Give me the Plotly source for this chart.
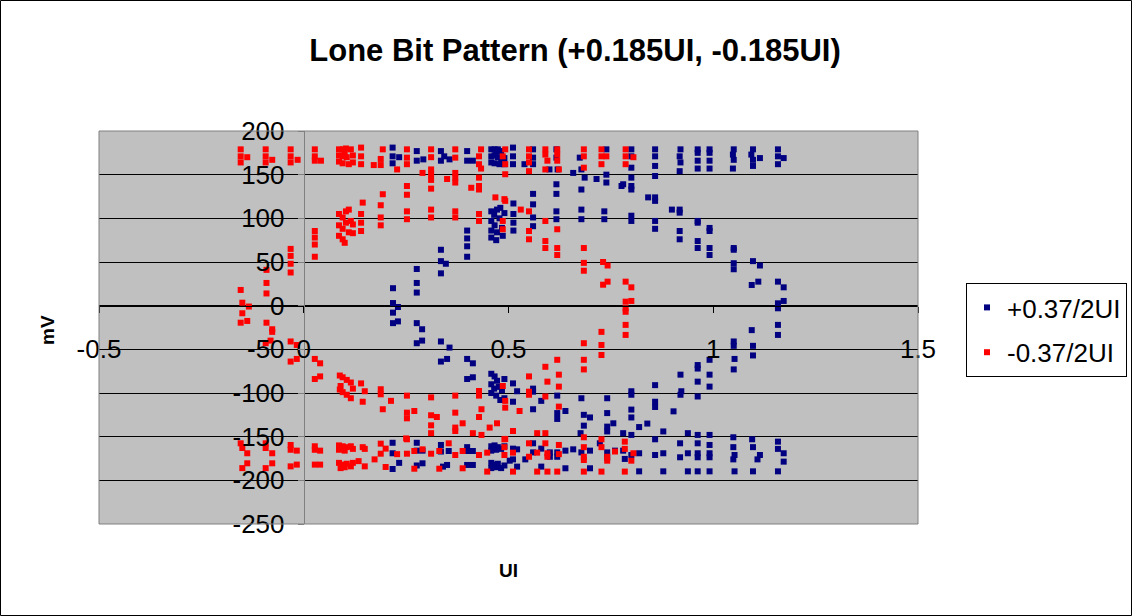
import plotly.graph_objects as go

# ---------------- data (UI, mV) ----------------
blue_points = [
    # left crossing
    (0.218, 20), (0.218, 3), (0.230, -1.5), (0.218, -8), (0.218, -20), (0.230, -18),
    # top rail
    (0.217, 181), (0.217, 171), (0.233, 170), (0.217, 163),
    (0.276, 177), (0.276, 166), (0.292, 167.5),
    (0.335, 177), (0.335, 166), (0.343, 171), (0.356, 167.5),
    (0.399, 177), (0.399, 166), (0.413, 166),
    (0.458, 179), (0.466, 179), (0.474, 179), (0.482, 177), (0.458, 171), (0.466, 172),
    (0.474, 170), (0.490, 169), (0.458, 164), (0.466, 163), (0.478, 162), (0.490, 162),
    (0.470, 175), (0.482, 166),
    (0.511, 181), (0.511, 171), (0.511, 162),
    (0.539, 162), (0.560, 179), (0.560, 169.5), (0.560, 162),
    (0.600, 156), (0.617, 179), (0.617, 169.5), (0.620, 156),
    (0.658, 152), (0.674, 169.5), (0.678, 156), (0.686, 146.6), (0.678, 133),
    (0.739, 179), (0.715, 145), (0.739, 150), (0.739, 141),
    (0.776, 137), (0.780, 139),
    (0.800, 179), (0.800, 171), (0.800, 158), (0.800, 146.6), (0.800, 137), (0.800, 133),
    (0.858, 179), (0.858, 171), (0.858, 160), (0.858, 148.5),
    (0.920, 179), (0.918, 171), (0.920, 164), (0.918, 154),
    (0.962, 179), (0.962, 175), (0.962, 166), (0.962, 157),
    (0.991, 179), (0.991, 175), (0.991, 166), (0.991, 157),
    (1.050, 179), (1.048, 173), (1.050, 167), (1.048, 157),
    (1.097, 179), (1.093, 173), (1.097, 167), (1.114, 169), (1.097, 160),
    (1.158, 179), (1.158, 171), (1.158, 162), (1.172, 169),
    # upper branch
    (0.276, 42), (0.276, 26), (0.276, 15),
    (0.335, 64), (0.335, 51), (0.347, 48), (0.335, 37),
    (0.399, 86), (0.399, 77), (0.399, 68), (0.399, 56),
    (0.458, 108), (0.465, 104), (0.472, 110), (0.480, 112), (0.458, 97), (0.466, 92),
    (0.458, 86), (0.472, 84), (0.484, 89), (0.458, 78), (0.470, 75), (0.486, 80),
    (0.490, 106), (0.478, 100),
    (0.512, 117), (0.512, 105), (0.512, 95), (0.512, 86),
    (0.560, 128), (0.560, 116), (0.560, 101), (0.560, 91),
    (0.617, 139), (0.617, 128), (0.617, 108), (0.617, 99),
    (0.678, 110), (0.678, 99),
    (0.734, 108), (0.734, 99),
    (0.800, 103), (0.800, 97),
    (0.841, 124), (0.858, 124), (0.858, 120), (0.858, 97), (0.858, 88),
    (0.899, 110), (0.918, 110), (0.918, 106.5), (0.918, 85.5), (0.918, 76),
    (0.962, 97), (0.962, 95), (0.962, 74), (0.962, 66),
    (0.991, 89), (0.991, 85.5), (0.991, 66), (0.991, 58),
    (1.050, 66), (1.050, 64), (1.050, 48.6), (1.050, 41.7),
    (1.097, 51), (1.114, 46), (1.094, 23.7), (1.110, 27.5),
    # right crossing
    (1.158, 27.5), (1.172, 21), (1.158, 2.7), (1.172, 5.4), (1.158, -3), (1.158, -22), (1.158, -33.5),
    # lower branch
    (1.094, -28), (1.097, -46), (1.050, -41), (1.050, -46), (1.097, -57),
    (0.991, -62), (0.991, -79), (0.991, -92.7), (1.052, -61), (1.050, -73),
    (0.962, -68), (0.962, -72), (0.962, -87), (0.962, -104),
    (0.920, -79), (0.922, -98), (0.920, -102),
    (0.858, -91), (0.858, -110), (0.858, -116), (0.903, -121),
    (0.800, -98), (0.800, -102), (0.800, -119), (0.800, -128), (0.839, -135), (0.819, -139),
    (0.780, -146), (0.800, -148),
    (0.741, -106), (0.741, -123), (0.741, -138.5), (0.756, -134.7), (0.741, -144),
    (0.678, -106), (0.684, -125), (0.699, -128), (0.684, -137.4), (0.676, -146),
    (0.619, -103), (0.619, -123), (0.619, -129.7), (0.639, -120.6),
    (0.560, -95), (0.560, -98.5), (0.560, -118.6), (0.580, -109),
    (0.511, -89), (0.511, -110), (0.521, -98),
    (0.458, -78), (0.466, -81), (0.472, -86), (0.458, -90), (0.476, -93), (0.484, -97),
    (0.458, -100), (0.470, -103), (0.490, -106), (0.480, -108), (0.465, -95), (0.490, -84),
    (0.399, -61), (0.413, -66), (0.399, -84), (0.413, -82),
    (0.335, -41), (0.335, -64), (0.350, -61), (0.356, -48),
    (0.276, -20), (0.276, -43), (0.289, -27), (0.289, -40),
    # bottom rail
    (0.217, -157), (0.217, -169), (0.233, -180), (0.217, -187),
    (0.276, -157), (0.276, -166), (0.290, -166), (0.276, -183), (0.290, -180.5),
    (0.335, -159.5), (0.335, -167), (0.354, -166.4), (0.340, -184.3), (0.350, -182.4),
    (0.399, -162), (0.399, -166.4), (0.413, -166.4), (0.399, -182.4), (0.413, -182.4),
    (0.458, -161), (0.466, -160), (0.474, -162), (0.490, -161), (0.458, -166), (0.470, -165),
    (0.482, -164), (0.458, -180), (0.466, -182), (0.474, -181), (0.490, -183), (0.458, -186),
    (0.470, -185), (0.482, -186),
    (0.511, -163.7), (0.521, -164.5), (0.511, -176), (0.503, -177.5), (0.521, -184.3), (0.541, -176),
    (0.560, -157.6), (0.560, -168), (0.580, -163.7), (0.580, -184.3),
    (0.601, -168), (0.601, -173), (0.619, -168), (0.619, -173), (0.639, -166), (0.639, -186.2),
    (0.658, -164.5), (0.678, -168), (0.699, -166), (0.699, -186.2),
    (0.723, -157.6), (0.741, -168), (0.741, -174), (0.760, -166), (0.780, -166), (0.784, -175.5),
    (0.800, -171), (0.819, -169), (0.819, -189.7),
    (0.858, -153), (0.858, -171), (0.878, -144), (0.878, -169), (0.878, -189.7),
    (0.919, -157.6), (0.919, -173.6), (0.938, -146), (0.938, -169), (0.938, -189.7),
    (0.962, -148), (0.962, -157.6), (0.962, -169), (0.962, -173.6), (0.962, -189.7),
    (0.991, -148), (0.991, -159.5), (0.991, -169), (0.991, -173.6), (0.991, -189.7),
    (1.049, -150.7), (1.049, -162), (1.052, -171), (1.049, -176), (1.052, -189.7),
    (1.095, -153), (1.097, -162), (1.114, -171), (1.108, -176), (1.097, -189.7),
    (1.158, -155.7), (1.158, -164), (1.172, -169), (1.172, -178.6), (1.158, -189.7),
]

red_points = [
    # top rail
    (-0.154, 179), (-0.154, 171), (-0.154, 164), (-0.138, 170),
    (-0.093, 179), (-0.093, 171), (-0.093, 164), (-0.077, 167),
    (-0.032, 179), (-0.032, 171), (-0.032, 164), (-0.015, 167),
    (0.027, 179), (0.027, 171), (0.027, 166), (0.042, 166),
    (0.086, 179), (0.095, 179), (0.103, 180), (0.115, 179), (0.086, 172), (0.095, 171),
    (0.105, 170), (0.120, 172), (0.086, 165), (0.095, 163), (0.110, 162), (0.120, 164), (0.100, 175),
    (0.140, 181), (0.140, 171), (0.140, 162),
    (0.171, 161), (0.193, 179), (0.188, 168), (0.188, 161),
    (0.228, 156), (0.252, 179), (0.252, 169.5), (0.252, 162),
    (0.290, 152), (0.311, 179), (0.311, 170), (0.311, 156), (0.311, 150.5), (0.311, 144), (0.311, 134),
    (0.350, 145), (0.370, 179), (0.370, 169.5), (0.370, 152), (0.370, 146.6), (0.370, 141),
    (0.409, 135), (0.433, 179), (0.428, 171), (0.428, 162), (0.433, 157), (0.428, 146.6),
    (0.428, 137), (0.428, 133),
    (0.492, 179), (0.486, 171), (0.492, 162), (0.492, 150.5),
    (0.550, 179), (0.550, 171), (0.550, 164), (0.550, 154),
    (0.590, 179), (0.590, 173), (0.595, 166), (0.590, 156),
    (0.619, 179), (0.619, 173), (0.619, 166), (0.623, 156),
    (0.684, 179), (0.684, 171), (0.684, 158),
    (0.727, 179), (0.727, 171), (0.727, 162), (0.739, 171),
    (0.786, 179), (0.786, 171), (0.786, 162), (0.805, 170),
    # upper branch
    (-0.091, 41), (-0.091, 26), (-0.091, 14),
    (-0.032, 65), (-0.032, 57), (-0.032, 48), (-0.032, 38),
    (0.027, 85.5), (0.027, 78), (0.027, 70), (0.027, 56),
    (0.086, 105), (0.095, 101), (0.103, 108), (0.110, 110), (0.086, 92), (0.095, 88),
    (0.103, 95), (0.115, 97), (0.086, 80), (0.095, 76), (0.110, 84), (0.120, 83),
    (0.100, 72), (0.120, 93),
    (0.144, 118), (0.140, 105), (0.140, 95), (0.140, 85.5),
    (0.193, 127.6), (0.188, 115), (0.188, 101), (0.188, 92),
    (0.252, 137), (0.252, 127), (0.252, 108), (0.252, 99),
    (0.311, 110), (0.311, 101),
    (0.370, 108), (0.370, 101),
    (0.428, 105), (0.428, 97),
    (0.468, 124), (0.490, 122), (0.492, 120), (0.486, 97), (0.486, 87.5),
    (0.530, 110),
    (0.550, 108), (0.550, 85.5), (0.550, 76),
    (0.590, 97), (0.590, 74), (0.590, 66),
    (0.619, 87.5), (0.619, 66), (0.619, 58),
    (0.684, 66), (0.684, 49), (0.684, 40),
    (0.731, 50), (0.742, 46), (0.731, 24), (0.742, 27.5),
    # right crossing
    (0.786, 27.5), (0.800, 21), (0.786, 4.6), (0.800, 5.4), (0.786, -3), (0.786, -7),
    (0.786, -22), (0.786, -33.5),
    # left crossing
    (-0.154, 18), (-0.150, 3.4), (-0.134, -1), (-0.150, -8.7), (-0.154, -19.5), (-0.138, -17.5),
    # lower branch
    (-0.091, -19.5), (-0.077, -27), (-0.081, -40), (-0.077, -30), (-0.093, -43),
    (-0.032, -41), (-0.017, -45), (-0.032, -64), (-0.017, -61),
    (0.027, -61), (0.040, -66), (0.027, -84), (0.040, -81),
    (0.088, -80), (0.095, -82), (0.105, -85), (0.115, -88), (0.088, -96), (0.095, -99),
    (0.105, -102), (0.115, -106), (0.090, -92), (0.120, -95),
    (0.140, -89), (0.149, -98), (0.144, -110),
    (0.188, -95.7), (0.188, -101.5), (0.213, -109), (0.193, -118.6),
    (0.252, -103), (0.252, -122.5), (0.252, -129), (0.270, -120.6), (0.250, -152),
    (0.311, -105), (0.311, -125.5), (0.311, -137), (0.311, -146), (0.325, -127.5),
    (0.370, -103), (0.370, -122.5), (0.370, -139.6), (0.370, -143.5), (0.388, -134.7),
    (0.428, -97.7), (0.428, -103), (0.434, -118.6), (0.428, -127.5), (0.413, -146), (0.434, -148),
    (0.454, -139.6), (0.472, -134.7), (0.511, -143.5),
    (0.486, -92), (0.492, -109), (0.492, -116.8), (0.492, -152.6),
    (0.527, -120.6),
    (0.550, -81), (0.550, -98.5), (0.550, -102),
    (0.590, -70), (0.595, -87), (0.590, -104),
    (0.619, -62), (0.623, -79), (0.623, -92.7), (0.623, -115.6),
    (0.684, -43), (0.684, -62), (0.684, -73),
    (0.727, -30), (0.727, -45), (0.727, -56.5),
    # bottom rail
    (-0.154, -157.6), (-0.150, -163), (-0.138, -169), (-0.150, -186), (-0.138, -180.5),
    (-0.093, -157.6), (-0.093, -163), (-0.077, -169), (-0.077, -180.5), (-0.093, -186),
    (-0.032, -159.5), (-0.032, -165), (-0.017, -166), (-0.032, -184), (-0.017, -182),
    (0.027, -161), (0.027, -165), (0.040, -166), (0.027, -182), (0.040, -182),
    (0.086, -160), (0.095, -161), (0.105, -162), (0.115, -161), (0.086, -165), (0.100, -166),
    (0.120, -164), (0.086, -180), (0.095, -182), (0.105, -181), (0.115, -184), (0.090, -186),
    (0.100, -185), (0.120, -180),
    (0.144, -162), (0.149, -164), (0.149, -184), (0.134, -178),
    (0.173, -176), (0.188, -158), (0.188, -169.5), (0.200, -163.7), (0.200, -184.7),
    (0.228, -170), (0.252, -153), (0.252, -169.5), (0.270, -166.4), (0.270, -186.7), (0.290, -164.5),
    (0.311, -169.5), (0.331, -166.4), (0.331, -186.7), (0.354, -157.6),
    (0.370, -171), (0.388, -166.4), (0.388, -186.2),
    (0.428, -171), (0.448, -168.3), (0.448, -190),
    (0.490, -153), (0.490, -162), (0.490, -171), (0.511, -168.3), (0.511, -190),
    (0.550, -157.6), (0.550, -173), (0.570, -146), (0.570, -168.3), (0.570, -190),
    (0.590, -146), (0.590, -157.6), (0.595, -169), (0.595, -173), (0.595, -190),
    (0.623, -159.5), (0.623, -170), (0.619, -190),
    (0.684, -150.7), (0.684, -162), (0.684, -173), (0.684, -176.7), (0.684, -190),
    (0.727, -153), (0.727, -162), (0.741, -173), (0.741, -177.5), (0.727, -190),
    (0.760, -167), (0.784, -155.7), (0.784, -164), (0.805, -169), (0.800, -177.5), (0.784, -190),
]

series_names = ["+0.37/2UI", "-0.37/2UI"]
x_tick_vals = [-0.5, 0, 0.5, 1, 1.5]
x_tick_text = ["-0.5", "0", "0.5", "1", "1.5"]
y_tick_vals = [-250, -200, -150, -100, -50, 0, 50, 100, 150, 200]
y_tick_text = ["-250", "-200", "-150", "-100", "-50", "0", "50", "100", "150", "200"]

blue_ui = [p[0] for p in blue_points]
blue_mv = [p[1] for p in blue_points]
red_ui = [p[0] for p in red_points]
red_mv = [p[1] for p in red_points]

FONT = "Arial, Liberation Sans, sans-serif"

# plot area geometry (pixels)
W, H = 1132, 616
L, R, T, B = 99, 918, 131, 524
pw, ph = R - L, B - T

def px_to_paper_x(px):
    return (px - L) / pw

def px_to_paper_y(py):
    return (B - py) / ph

fig = go.Figure()
fig.add_trace(go.Scatter(x=blue_ui, y=blue_mv, mode="markers", name=series_names[0],
                         legendgroup="a",
                         marker=dict(symbol="square", size=6, color="#000080", line=dict(width=0))))
fig.add_trace(go.Scatter(x=red_ui, y=red_mv, mode="markers", name=series_names[1],
                         legendgroup="b",
                         marker=dict(symbol="square", size=6, color="#FF0000", line=dict(width=0))))

xmin, xmax = -0.5, 1.5
ymin, ymax = -250, 200
xaxis_pos = (0 - ymin) / (ymax - ymin)   # x axis crosses at 0 mV
yaxis_pos = (0 - xmin) / (xmax - xmin)   # y axis crosses at 0 UI

fig.update_layout(
    width=W, height=H, autosize=False,
    margin=dict(l=L, r=W - R, t=T, b=H - B, pad=0, autoexpand=False),
    paper_bgcolor="white",
    plot_bgcolor="#C0C0C0",
    font=dict(family=FONT, color="black"),
    title=dict(text="<b>Lone Bit Pattern (+0.185UI, -0.185UI)</b>",
               x=575 / W, xanchor="center", y=1 - 50 / H, yanchor="middle",
               font=dict(size=31, family=FONT, color="black")),
    xaxis=dict(range=[xmin, xmax], tickvals=x_tick_vals, ticktext=x_tick_text,
               showgrid=False, zeroline=False, anchor="free", position=xaxis_pos,
               showline=True, linecolor="#000000", linewidth=1,
               ticks="outside", ticklen=6, tickcolor="#000000",
               ticklabelstandoff=14,
               tickfont=dict(size=26, family=FONT, color="black")),
    yaxis=dict(range=[ymin, ymax], tickvals=y_tick_vals, ticktext=y_tick_text,
               showgrid=True, gridcolor="#000000", gridwidth=1,
               zeroline=False, anchor="free", position=yaxis_pos,
               showline=True, linecolor="#808080", linewidth=1,
               ticks="outside", ticklen=6, tickcolor="#808080",
               ticklabelstandoff=8,
               tickfont=dict(size=26, family=FONT, color="black")),
    legend=dict(x=px_to_paper_x(966), y=px_to_paper_y(283), xanchor="left", yanchor="top",
                bgcolor="white", bordercolor="black", borderwidth=1,
                font=dict(size=26, family=FONT, color="black"),
                tracegroupgap=8, itemsizing="trace"),
    showlegend=True,
    shapes=[
        dict(type="rect", xref="paper", yref="paper", x0=0, x1=1, y0=0, y1=1,
             line=dict(color="#808080", width=1), fillcolor="rgba(0,0,0,0)", layer="above"),
        dict(type="rect", xref="paper", yref="paper",
             x0=px_to_paper_x(0.5), x1=px_to_paper_x(W - 0.5),
             y0=px_to_paper_y(H - 0.5), y1=px_to_paper_y(0.5),
             line=dict(color="black", width=1), fillcolor="rgba(0,0,0,0)", layer="above"),
    ],
    annotations=[
        dict(text="<b>mV</b>", xref="paper", yref="paper", x=px_to_paper_x(47), y=px_to_paper_y(330),
             textangle=-90, showarrow=False, font=dict(size=19, family=FONT, color="black"),
             xanchor="center", yanchor="middle"),
        dict(text="<b>UI</b>", xref="paper", yref="paper", x=px_to_paper_x(508), y=px_to_paper_y(570),
             showarrow=False, font=dict(size=19, family=FONT, color="black"),
             xanchor="center", yanchor="middle"),
    ],
)

# remove the browser's default 8px page margin so the figure fills the window exactly
fig.write_html("out.html",
               config={"displayModeBar": False},
               post_script="document.body.style.margin='0px';document.body.style.overflow='hidden';")
